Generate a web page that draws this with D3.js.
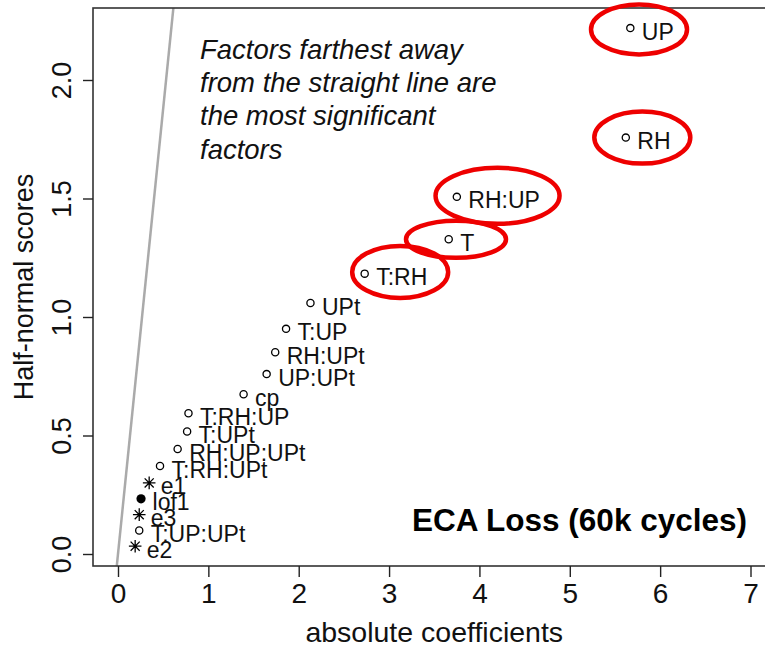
<!DOCTYPE html>
<html><head><meta charset="utf-8">
<script src="https://cdn.jsdelivr.net/npm/d3@7"></script>
<style>
html,body{margin:0;padding:0;background:#fff;}
svg{display:block;font-family:"Liberation Sans",Arial,sans-serif;}
</style></head>
<body>
<svg id="c" width="765" height="648"></svg>
<script>
// ---- data ----
const labels = ["UP","RH","RH:UP","T","T:RH","UPt","T:UP","RH:UPt","UP:UPt","cp","T:RH:UP","T:UPt","RH:UP:UPt","T:RH:UPt","e1","lof1","e3","T:UP:UPt","e2"];
const absCoef = [5.67,5.62,3.75,3.66,2.73,2.13,1.86,1.74,1.645,1.39,0.78,0.765,0.66,0.465,0.345,0.255,0.235,0.235,0.19];
const hnScores = [2.219,1.757,1.507,1.328,1.183,1.059,0.950,0.851,0.759,0.674,0.594,0.517,0.443,0.371,0.300,0.233,0.166,0.099,0.033];
const pointType = ["o","o","o","o","o","o","o","o","o","o","o","o","o","o","star","filled","star","o","star"];
const circled = ["UP","RH","RH:UP","T","T:RH"];
const xTicks = [0,1,2,3,4,5,6,7];
const yTicks = [0,0.5,1,1.5,2];
const refSlope = 0.266;           // reference line: x = refSlope * score
const noteLines = ["Factors farthest away","from the straight line are","the most significant","factors"];
const title = "ECA Loss (60k cycles)";

// ---- layout ----
const svg = d3.select("#c");
const L = 93, T = 8, B = 566, R = 800;
const x = d3.scaleLinear().domain([0,7]).range([118,750.5]);
const y = d3.scaleLinear().domain([0,2]).range([554,80]);

svg.append("defs").append("clipPath").attr("id","clip")
  .append("rect").attr("x",L).attr("y",T).attr("width",R-L).attr("height",B-T);

// reference line
const yDom = [y.invert(B+2), y.invert(T-2)];
svg.append("line").attr("clip-path","url(#clip)")
  .attr("x1",x(refSlope*yDom[0])).attr("y1",y(yDom[0]))
  .attr("x2",x(refSlope*yDom[1])).attr("y2",y(yDom[1]))
  .attr("stroke","#aaaaaa").attr("stroke-width",2.5);

// box
svg.append("rect").attr("x",L).attr("y",T).attr("width",R-L).attr("height",B-T)
  .attr("fill","none").attr("stroke","#333").attr("stroke-width",1.6);

// x axis
const xa = svg.append("g").attr("transform",`translate(0,${B})`)
  .call(d3.axisBottom(x).tickValues(xTicks).tickFormat(d3.format("d")).tickSize(11).tickPadding(6));
xa.select(".domain").remove();
xa.selectAll("line").attr("stroke","#222").attr("stroke-width",1.4);
xa.selectAll("text").attr("font-size",28).attr("fill","#111").attr("font-family","Liberation Sans, Arial");

// y axis
const ya = svg.append("g").attr("transform",`translate(${L},0)`)
  .call(d3.axisLeft(y).tickValues(yTicks).tickFormat(d3.format(".1f")).tickSize(10));
ya.select(".domain").remove();
ya.selectAll("line").attr("stroke","#222").attr("stroke-width",1.4);
ya.selectAll("text").attr("font-size",27).attr("fill","#111").attr("font-family","Liberation Sans, Arial")
  .attr("x",0).attr("dy",0).attr("text-anchor","middle")
  .attr("transform",function(){return "translate(-22,0) rotate(-90)";});

// axis titles
svg.append("text").attr("x",(x(0)+x(7))/2).attr("y",642).attr("text-anchor","middle")
  .attr("font-size",28.5).attr("fill","#111").text("absolute coefficients");
svg.append("text").attr("transform",`translate(33,${(T+B)/2}) rotate(-90)`).attr("text-anchor","middle")
  .attr("font-size",27).attr("fill","#111").text("Half-normal scores");

// points
const pts = labels.map((l,i)=>({l, x:absCoef[i], y:hnScores[i], t:pointType[i]}));
const g = svg.append("g");
pts.forEach(p=>{
  const cx = x(p.x), cy = y(p.y);
  if(p.t==="o"){
    g.append("circle").attr("cx",cx).attr("cy",cy).attr("r",3.6).attr("fill","none").attr("stroke","#000").attr("stroke-width",1.3);
  } else if(p.t==="filled"){
    g.append("circle").attr("cx",cx).attr("cy",cy).attr("r",4.6).attr("fill","#000");
  } else {
    const s = 6.3, d = s*0.72;
    const path = `M${cx-s},${cy}H${cx+s}M${cx},${cy-s}V${cy+s}M${cx-d},${cy-d}L${cx+d},${cy+d}M${cx-d},${cy+d}L${cx+d},${cy-d}`;
    g.append("path").attr("d",path).attr("stroke","#000").attr("stroke-width",1.3).attr("fill","none");
  }
  g.append("text").attr("x",cx+11.5).attr("y",cy+11.5).attr("font-size",23).attr("fill","#111").text(p.l);
});

// ellipses around significant factors (pixel offsets from the point)
const ellGeom = {"UP":[8.7,1.3,48,25],"RH":[16.5,0,48,26],"RH:UP":[40.7,-1,62,28],"T":[7.3,0,50,18.5],"T:RH":[35.5,-1.7,48,26]};
circled.forEach(l=>{
  const p = pts.find(q=>q.l===l), e = ellGeom[l];
  svg.append("ellipse").attr("cx",x(p.x)+e[0]).attr("cy",y(p.y)+e[1]).attr("rx",e[2]).attr("ry",e[3])
    .attr("fill","none").attr("stroke","#ee0000").attr("stroke-width",4.5);
});

// annotation
const note = svg.append("text").attr("font-style","italic").attr("font-size",27.5).attr("fill","#111");
noteLines.forEach((s,i)=>note.append("tspan").attr("x",200).attr("y",59+i*33.2).text(s));

svg.append("text").attr("x",747).attr("y",531).attr("text-anchor","end").attr("font-weight","bold")
  .attr("font-size",31.5).attr("fill","#000").text(title);
</script>
</body></html>
